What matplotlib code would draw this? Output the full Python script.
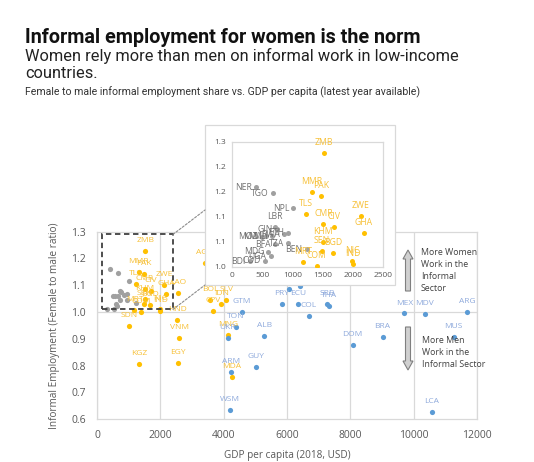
import matplotlib
matplotlib.use("Agg")
import matplotlib.pyplot as plt
from matplotlib.patches import Rectangle, FancyArrow, ConnectionPatch
from matplotlib.ticker import FuncFormatter
from decimal import Decimal, ROUND_HALF_UP

# ---------------- data ----------------
gray_codes = ["NER", "TGO", "NPL", "LBR", "GIN", "RWA", "ETH", "MOZ", "MWI", "MLI",
              "TZA", "BFA", "MDG", "BEN", "UGA", "COD", "BDI"]
gray_gdp = [397, 674, 1015, 712, 750, 866, 932, 492, 563, 657,
            932, 712, 601, 1236, 640, 547, 300]
gray_ratio = [1.159, 1.147, 1.117, 1.079, 1.075, 1.065, 1.068, 1.060, 1.061, 1.061,
              1.047, 1.045, 1.030, 1.035, 1.021, 1.012, 1.011]

orange_codes = ["ZMB", "MMR", "PAK", "TLS", "CMR", "CIV", "ZWE", "GHA", "KHM", "SEN",
                "BGD", "MRT", "COM", "NIC", "IND", "SDN", "KGZ", "VNM", "EGY", "HND",
                "LAO", "AGO", "BOL", "SLV", "IDN", "CPV", "MNG", "MDA"]
orange_gdp = [1523, 1319, 1474, 1225, 1512, 1694, 2130, 2185, 1510, 1490,
              1678, 1181, 1402, 1990, 2005, 1011, 1327, 2590, 2570, 2538,
              2570, 3413, 3571, 4077, 3919, 3676, 4150, 4257]
orange_ratio = [1.227, 1.150, 1.141, 1.105, 1.085, 1.080, 1.102, 1.067, 1.049, 1.031,
                1.028, 1.009, 1.002, 1.011, 1.005, 0.948, 0.805, 0.902, 0.809, 0.969,
                1.072, 1.184, 1.047, 1.045, 1.029, 1.004, 0.914, 0.759]

blue_codes = ["UKR", "TON", "ARM", "WSM", "GTM", "ALB", "GUY", "PRY", "ECU", "PER",
              "SUR", "COL", "SRB", "THA", "DOM", "BRA", "MEX", "MDV", "ARG", "MUS", "LCA"]
blue_gdp = [4130, 4383, 4235, 4203, 4573, 5288, 5015, 5837, 6363, 6078,
            6396, 6679, 7259, 7311, 8070, 9018, 9703, 10345, 11694, 11262, 10578]
blue_ratio = [0.904, 0.945, 0.777, 0.634, 1.001, 0.910, 0.796, 1.029, 1.029, 1.088,
              1.097, 0.985, 1.032, 1.022, 0.877, 0.907, 0.995, 0.994, 1.000, 0.907, 0.627]

main_xticks = [0, 2000, 4000, 6000, 8000, 10000, 12000]
main_yticks = [0.6, 0.7, 0.8, 0.9, 1.0, 1.1, 1.2, 1.3]
inset_xticks = [0, 500, 1000, 1500, 2000, 2500]
inset_yticks = [1.0, 1.05, 1.10, 1.15, 1.20, 1.25]

# ---------------- style ----------------
W, H = 534, 462
ORANGE = "#FFC000"
ORANGE_TXT = "#F7C037"
BLUE = "#5B9BD5"
BLUE_TXT = "#8FAADC"
GRAY = "#A0A0A0"
GRAY_TXT = "#707070"
TICK = "#595959"
FRAME = "#D9D9D9"
FONT = ["Open Sans", "DejaVu Sans"]
TFONT = ["Roboto", "DejaVu Sans"]

plt.rcParams["font.family"] = FONT

fig = plt.figure(figsize=(W / 100, H / 100), dpi=100)


def rect_px(l, t, r, b):
    return [l / W, 1 - b / H, (r - l) / W, (b - t) / H]


# titles
fig.text(25 / W, 1 - 43 / H, "Informal employment for women is the norm",
         fontsize=14.2, fontweight="bold", family=TFONT, color="#111111", va="baseline")
fig.text(25 / W, 1 - 61 / H, "Women rely more than men on informal work in low-income",
         fontsize=11.8, family=TFONT, color="#222222", va="baseline")
fig.text(25 / W, 1 - 78 / H, "countries.",
         fontsize=11.8, family=TFONT, color="#222222", va="baseline")
fig.text(25 / W, 1 - 95 / H,
         "Female to male informal employment share vs. GDP per capita (latest year available)",
         fontsize=7.6, family=TFONT, color="#333333", va="baseline")

# ---------------- main axes ----------------
ax = fig.add_axes(rect_px(97, 231.7, 477, 419.3))
ax.set_xlim(0, 12000)
ax.set_ylim(0.6, 1.3)
ax.set_xticks(main_xticks)
ax.set_yticks(main_yticks)
ax.yaxis.set_major_formatter(FuncFormatter(lambda v, p: f"{v:.1f}"))
ax.xaxis.set_major_formatter(FuncFormatter(lambda v, p: f"{int(round(v))}"))
ax.tick_params(length=0, labelsize=7.5, labelcolor=TICK, pad=8)
for s in ax.spines.values():
    s.set_color(FRAME)
    s.set_linewidth(0.9)
ax.grid(axis="x", color=FRAME, lw=0.9)
ax.axhline(1.0, color=FRAME, lw=0.9, zorder=0.5)
ax.set_axisbelow(True)
ax.set_ylabel("Informal Employment (Female to male ratio)", fontsize=7.2, color=TICK, labelpad=8)
ax.set_xlabel("GDP per capita (2018, USD)", fontsize=7.2, color=TICK, labelpad=6)

ax.scatter(gray_gdp, gray_ratio, s=14, color=GRAY, linewidths=0, zorder=3)
ax.scatter(orange_gdp, orange_ratio, s=14, color=ORANGE, linewidths=0, zorder=3)
ax.scatter(blue_gdp, blue_ratio, s=14, color=BLUE, linewidths=0, zorder=3)

for c, x, y in zip(orange_codes, orange_gdp, orange_ratio):
    ax.annotate(c, (x, y), xytext=(0, 7.5), textcoords="offset points", ha="center",
                va="center", fontsize=6, color=ORANGE_TXT, zorder=4)
for c, x, y in zip(blue_codes, blue_gdp, blue_ratio):
    ax.annotate(c, (x, y), xytext=(0, 7.5), textcoords="offset points", ha="center",
                va="center", fontsize=6, color=BLUE_TXT, zorder=4)

# dashed zoom rectangle
ax.add_patch(Rectangle((150, 1.01), 2250, 0.28, fill=False, ls=(0, (3, 2)),
                       lw=1.3, edgecolor="#404040", zorder=5))

# arrows and annotation text
fig.patches.append(FancyArrow(408 / W, 1 - 291 / H, 0, 41 / H, width=5 / W,
                              head_width=10 / W, head_length=9 / H,
                              length_includes_head=True, facecolor="#D0D0D0",
                              edgecolor="#7F7F7F", lw=0.8, transform=fig.transFigure,
                              figure=fig))
fig.patches.append(FancyArrow(408 / W, 1 - 327 / H, 0, -43 / H, width=5 / W,
                              head_width=10 / W, head_length=9 / H,
                              length_includes_head=True, facecolor="#D0D0D0",
                              edgecolor="#7F7F7F", lw=0.8, transform=fig.transFigure,
                              figure=fig))
fig.text(421 / W, 1 - 248 / H, "More Women\nWork in the\nInformal\nSector",
         fontsize=6.3, color="#404040", va="top", ha="left", linespacing=1.45)
fig.text(422 / W, 1 - 336 / H, "More Men\nWork in the\nInformal Sector",
         fontsize=6.3, color="#404040", va="top", ha="left", linespacing=1.45)

# ---------------- inset ----------------
panel = Rectangle((205 / W, 1 - 285 / H), 190 / W, 160 / H, transform=fig.transFigure,
                  facecolor="white", edgecolor=FRAME, lw=0.9, zorder=2)
fig.add_artist(panel)

axi = fig.add_axes(rect_px(232, 141.7, 383, 266.7))
axi.set_zorder(3)
axi.set_xlim(0, 2500)
axi.set_ylim(1.0, 1.25)
axi.set_xticks(inset_xticks)
axi.set_yticks(inset_yticks)


def half_up(v, p):
    return str(Decimal(f"{v:.2f}").quantize(Decimal("0.1"), rounding=ROUND_HALF_UP))


axi.yaxis.set_major_formatter(FuncFormatter(half_up))
axi.xaxis.set_major_formatter(FuncFormatter(lambda v, p: f"{int(round(v))}"))
axi.tick_params(length=0, labelsize=6, labelcolor=TICK, pad=4)
for s in axi.spines.values():
    s.set_color(FRAME)
    s.set_linewidth(0.9)

axi.scatter(gray_gdp, gray_ratio, s=13, color=GRAY, linewidths=0, zorder=3, clip_on=False)
axi.scatter(orange_gdp, orange_ratio, s=13, color=ORANGE, linewidths=0, zorder=3)

for c, x, y in zip(gray_codes, gray_gdp, gray_ratio):
    if c == "LBR":
        axi.annotate(c, (x, y), xytext=(0, 7.5), textcoords="offset points", ha="center",
                     va="center", fontsize=6.2, color=GRAY_TXT, zorder=4)
    else:
        axi.annotate(c, (x, y), xytext=(-3, 0), textcoords="offset points", ha="right",
                     va="center", fontsize=6.2, color=GRAY_TXT, zorder=4)
for c, x, y in zip(orange_codes, orange_gdp, orange_ratio):
    if x <= 2500 and y >= 1.0:
        axi.annotate(c, (x, y), xytext=(0, 7.5), textcoords="offset points", ha="center",
                     va="center", fontsize=6.2, color=ORANGE_TXT, zorder=4)

# connector lines from zoom rectangle to inset panel
for ya, yb in [(1.29, 210), (1.01, 285)]:
    con = ConnectionPatch(xyA=(2400, ya), coordsA=ax.transData,
                          xyB=(205 / W, 1 - yb / H), coordsB=fig.transFigure,
                          linestyle=(0, (2, 1.5)), color="#8C8C8C", lw=0.8, zorder=4)
    fig.add_artist(con)

fig.savefig("out.png", dpi=100)
